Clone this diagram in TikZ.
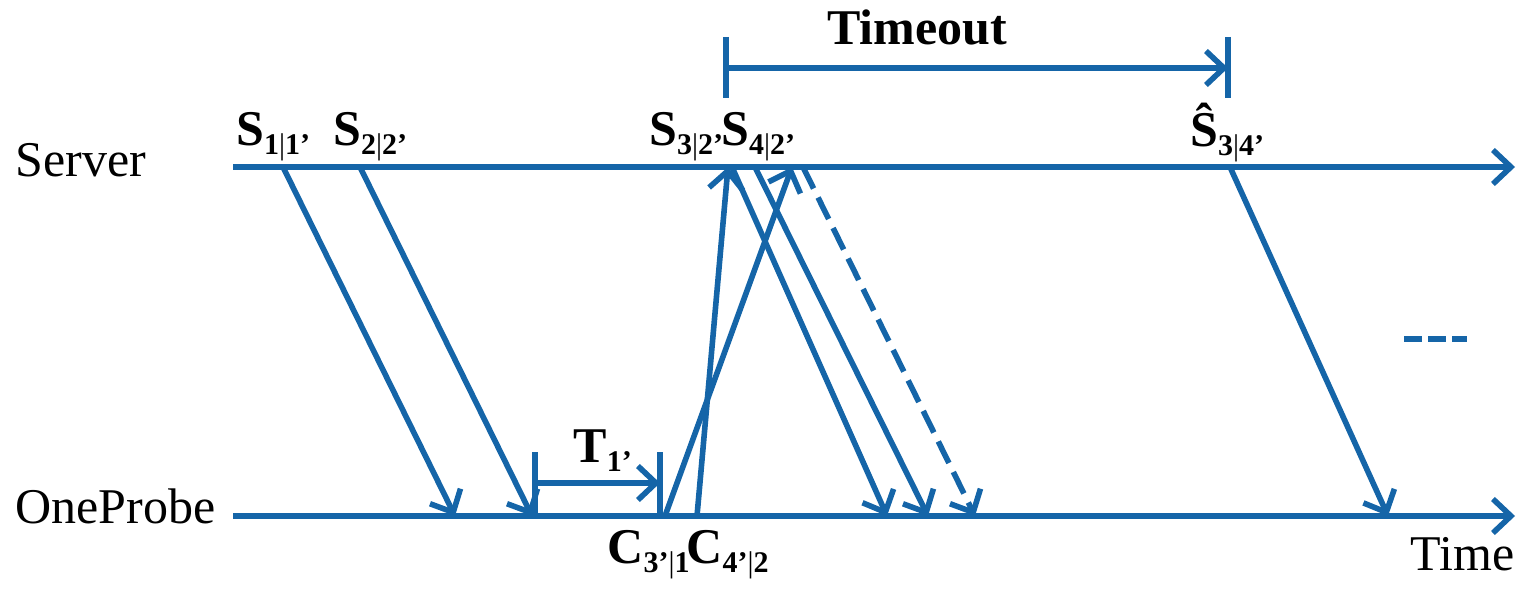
\documentclass[tikz,border=0pt]{standalone}
\usepackage{fontspec}
\setmainfont{Liberation Serif}
\usetikzlibrary{arrows.meta}
\definecolor{lineblue}{HTML}{1565A8}
\newcommand{\evsub}[1]{\raisebox{-4.5pt}{\fontsize{15}{15}\selectfont #1}}
\newcommand{\thinbar}{{\mdseries|}}
\tikzset{
  timeline/.style={draw=lineblue, line width=2.8pt, -{Straight Barb[length=9pt, width=17pt, line width=2.8pt]}},
  msgarrow/.style={draw=lineblue, line width=2.8pt, -{Straight Barb[length=9pt, width=17pt, line width=2.8pt]}},
  tick/.style={draw=lineblue, line width=2.8pt},
  evlabel/.style={font=\fontsize{25}{28}\selectfont\bfseries, inner sep=0pt, anchor=base west},
  axislabel/.style={font=\fontsize{25}{28}\selectfont, inner sep=0pt, anchor=base west}
}

\begin{document}
\begin{tikzpicture}[x=0.5pt, y=-0.5pt]
\useasboundingbox (0,0) rectangle (1520,593);

% time lines
\coordinate (srvstart) at (233,167);
\coordinate (srvend) at (1515,167);
\coordinate (prbstart) at (233,516);
\coordinate (prbend) at (1515,516);
\draw[timeline] (srvstart) -- (srvend);
\draw[timeline] (prbstart) -- (prbend);
\node[axislabel] (server) at (15,177) {Server};
\node[axislabel] (oneprobe) at (15,523) {OneProbe};
\node[axislabel] (time) at (1410,570) {Time};

% events on the server line
\coordinate (s1) at (283,167);
\coordinate (s2) at (360,167);
\coordinate (s3in) at (728,167);
\coordinate (s3) at (732,167);
\coordinate (s4) at (755,167);
\coordinate (s4in) at (792,167);
\coordinate (s5) at (803,167);
\coordinate (s6) at (1230,167);

% events on the probe line
\coordinate (p1) at (455,516);
\coordinate (p2) at (532,516);
\coordinate (c3) at (665,516);
\coordinate (c4) at (697,516);
\coordinate (p3) at (887,516);
\coordinate (p4) at (928,516);
\coordinate (p5) at (975,516);
\coordinate (p6) at (1388,516);

\draw[msgarrow] (s1) -- (p1);
\draw[msgarrow] (s2) -- (p2);
\draw[msgarrow] (c4) -- (s3in);
\draw[msgarrow] (c3) -- (s4in);
\draw[msgarrow] (s3) -- (p3);
\draw[msgarrow] (s4) -- (p4);
\draw[msgarrow, dash pattern=on 12pt off 5pt] (s5) -- (p5);
\draw[msgarrow] (s6) -- (p6);

% labels
\node[evlabel] (ls1) at (236,146) {S\evsub{1\thinbar1’}};
\node[evlabel] (ls2) at (333,146) {S\evsub{2\thinbar2’}};
\node[evlabel] (ls3) at (649,146) {S\evsub{3\thinbar2’}};
\node[evlabel] (ls4) at (721,146) {S\evsub{4\thinbar2’}};
\node[evlabel] (ls6) at (1190,147) {\^{S}\evsub{3\thinbar4'}};
\node[evlabel] (lc3) at (607,563) {C\evsub{3’\thinbar1}};
\node[evlabel] (lc4) at (686,563) {C\evsub{4’\thinbar2}};

% timeout bracket
\coordinate (toa) at (726,37);
\coordinate (tob) at (1228,37);
\draw[tick] (toa) -- ++(0,61) coordinate (toabot);
\draw[tick] (tob) -- ++(0,61) coordinate (tobbot);
\coordinate (tol) at (726,68);
\coordinate (tor) at (1228,68);
\draw[msgarrow] (tol) -- (tor);
\node[evlabel] (timeout) at (827,45) {Timeout};

% T1' bracket
\coordinate (ta) at (535,452);
\coordinate (tb) at (660,452);
\draw[tick] (ta) -- (p2 -| ta);
\draw[tick] (tb) -- (p2 -| tb);
\coordinate (tl) at (535,483);
\coordinate (tr) at (660,483);
\draw[msgarrow] (tl) -- (tr);
\node[evlabel] (lt1) at (573,462) {T\evsub{1’}};

% more to come
\coordinate (dotsa) at (1404,339);
\coordinate (dotsb) at (1467,339);
\draw[tick, line width=3pt, dash pattern=on 9pt off 3pt] (dotsa) -- (dotsb);
\end{tikzpicture}
\end{document}
